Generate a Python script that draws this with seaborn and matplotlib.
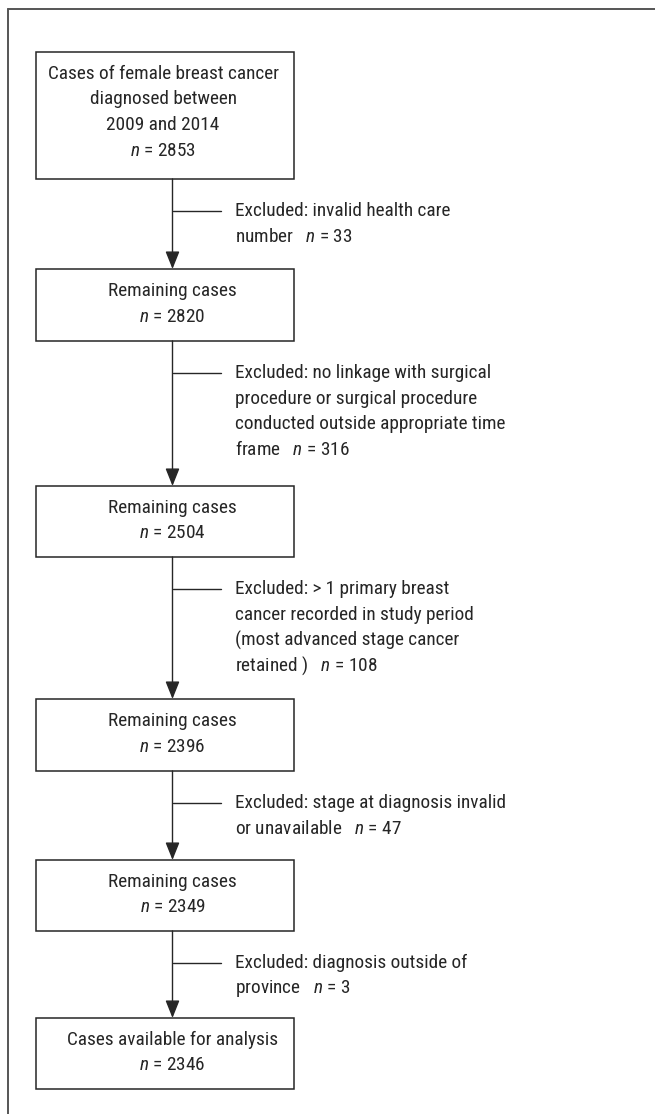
import matplotlib
matplotlib.use('Agg')
import matplotlib.pyplot as plt
from matplotlib.patches import Rectangle
import seaborn as sns

# Flowchart content
box_labels = ['Cases of female breast cancer\ndiagnosed between\n2009 and 2014',
              'Remaining cases',
              'Remaining cases',
              'Remaining cases',
              'Remaining cases',
              'Cases available for analysis']
box_counts = [2853, 2820, 2504, 2396, 2349, 2346]

excl_labels = ['Excluded: invalid health care\nnumber',
               'Excluded: no linkage with surgical\nprocedure or surgical procedure\n'
               'conducted outside appropriate time\nframe',
               'Excluded: > 1 primary breast\ncancer recorded in study period\n'
               '(most advanced stage cancer\nretained )',
               'Excluded: stage at diagnosis invalid\nor unavailable',
               'Excluded: diagnosis outside of\nprovince']
excl_counts = [33, 316, 108, 47, 3]

# Layout (pixel units)
box_top = [52, 269, 486, 699, 860, 1018]
box_bottom = [179, 341, 557, 771, 931, 1089]
box_left, box_right = 36, 294
text_x = [163, 172.5, 172.5, 172.5, 172.5, 172.5]
stem_x = 172.5
branch_end = 221
excl_x = 235
line_gap = 25.5

sns.set_theme(style='white')
FONT = ['Roboto Condensed', 'DejaVu Sans']
plt.rcParams['font.family'] = FONT
plt.rcParams['mathtext.fontset'] = 'custom'
plt.rcParams['mathtext.it'] = 'Roboto Condensed:italic'
plt.rcParams['mathtext.rm'] = 'Roboto Condensed'

ink = '#262626'
fs = 13.9

fig = plt.figure(figsize=(6.55, 11.14), dpi=100)
ax = fig.add_axes([0, 0, 1, 1])
ax.set_xlim(0, 655)
ax.set_ylim(1114, 0)
ax.axis('off')

# outer frame (clipped at right and bottom)
ax.plot([8, 660], [9, 9], color='#555555', lw=1.4)
ax.plot([8, 8], [9, 1120], color='#555555', lw=1.4)

for i, (label, count) in enumerate(zip(box_labels, box_counts)):
    top, bottom = box_top[i], box_bottom[i]
    ax.add_patch(Rectangle((box_left, top), box_right - box_left, bottom - top,
                           facecolor='white', edgecolor=ink, lw=1.1, zorder=2))
    lines = label.split('\n') + [r'$\it{n}$ = %d' % count]
    for j, line in enumerate(lines):
        ax.text(text_x[i], top + 22 + j * line_gap, line, ha='center', va='center',
                fontsize=fs, color=ink, zorder=3)

for i, (label, count) in enumerate(zip(excl_labels, excl_counts)):
    start, end = box_bottom[i], box_top[i + 1]
    ax.annotate('', xy=(stem_x, end), xytext=(stem_x, start),
                arrowprops=dict(arrowstyle='-|>,head_length=0.4,head_width=0.16',
                                mutation_scale=27, lw=1.0, color=ink,
                                shrinkA=0, shrinkB=0))
    branch_y = start + 32
    ax.plot([stem_x, branch_end], [branch_y, branch_y], color=ink, lw=1.0)
    lines = label.split('\n')
    lines[-1] = lines[-1] + r'   $\it{n}$ = %d' % count
    for j, line in enumerate(lines):
        ax.text(excl_x, branch_y + j * line_gap, line, ha='left', va='center',
                fontsize=fs, color=ink)

fig.savefig('out.png', dpi=100, facecolor='white')
